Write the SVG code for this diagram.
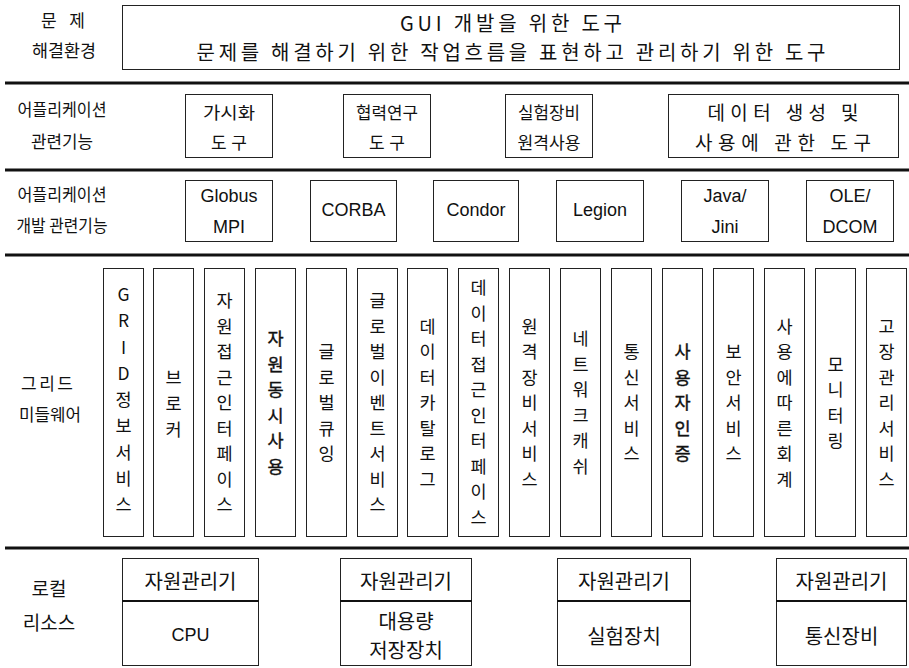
<svg xmlns="http://www.w3.org/2000/svg" width="909" height="668" viewBox="0 0 909 668">
<style>
.k{font-family:"Noto Sans CJK KR",sans-serif;font-size:17px;fill:#111;text-anchor:middle;dominant-baseline:central}
.s19{font-size:19px}
.s20{font-size:20px}
.e{font-family:"Liberation Sans","Noto Sans CJK KR",sans-serif;font-size:18px;fill:#111;text-anchor:middle;dominant-baseline:central}
.v{font-family:"Noto Sans CJK KR","Liberation Sans",sans-serif;font-size:17.5px;fill:#111;text-anchor:middle;dominant-baseline:central}
.b{stroke:#111;stroke-width:0.4}
.box{fill:#fff;stroke:#222;stroke-width:1}
.sep{stroke:#111;stroke-width:3}
.div{stroke:#111;stroke-width:2}
</style>
<rect width="909" height="668" fill="#fff"/>

<g id="separators">
<line class="sep" x1="5" y1="83" x2="909" y2="83"/>
<line class="sep" x1="5" y1="170" x2="909" y2="170"/>
<line class="sep" x1="5" y1="255" x2="909" y2="255"/>
<line class="sep" x1="5" y1="548" x2="909" y2="548"/>
</g>

<g id="row-labels">
<text class="k" x="63" y="19" textLength="44" lengthAdjust="spacing">문제</text>
<text class="k" x="64" y="49" textLength="64" lengthAdjust="spacingAndGlyphs">해결환경</text>
<text class="k" x="62" y="108" textLength="89" lengthAdjust="spacingAndGlyphs">어플리케이션</text>
<text class="k" x="62" y="140" textLength="62" lengthAdjust="spacingAndGlyphs">관련기능</text>
<text class="k" x="62" y="193" textLength="89" lengthAdjust="spacingAndGlyphs">어플리케이션</text>
<text class="k" x="62" y="224" textLength="91" lengthAdjust="spacingAndGlyphs">개발 관련기능</text>
<text class="k" x="47" y="382" textLength="52" lengthAdjust="spacing">그리드</text>
<text class="k" x="50" y="413" textLength="62" lengthAdjust="spacingAndGlyphs">미들웨어</text>
<text class="k s19" x="49" y="587">로컬</text>
<text class="k s19" x="49" y="621">리소스</text>
</g>

<g id="problem-env">
<rect class="box" x="122.5" y="5.5" width="777" height="64"/>
<text class="k s20" x="511" y="22" textLength="222" lengthAdjust="spacing">GUI 개발을 위한 도구</text>
<text class="k s20" x="511" y="51" textLength="629" lengthAdjust="spacing">문제를 해결하기 위한 작업흐름을 표현하고 관리하기 위한 도구</text>
</g>

<g id="app-visual">
<rect class="box" x="185.5" y="94.5" width="87" height="63"/>
<text class="k" x="229" y="111" textLength="52" lengthAdjust="spacingAndGlyphs">가시화</text>
<text class="k" x="229" y="141" textLength="36" lengthAdjust="spacing">도구</text>
</g>
<g id="app-collab">
<rect class="box" x="343.5" y="94.5" width="87" height="63"/>
<text class="k" x="387" y="111" textLength="62" lengthAdjust="spacingAndGlyphs">협력연구</text>
<text class="k" x="387" y="141" textLength="36" lengthAdjust="spacing">도구</text>
</g>
<g id="app-remote">
<rect class="box" x="505.5" y="94.5" width="87" height="63"/>
<text class="k" x="549" y="111" textLength="62" lengthAdjust="spacingAndGlyphs">실험장비</text>
<text class="k" x="549" y="141" textLength="63" lengthAdjust="spacingAndGlyphs">원격사용</text>
</g>
<g id="app-data">
<rect class="box" x="668.5" y="94.5" width="230" height="63"/>
<text class="k s19" x="783" y="111" textLength="151" lengthAdjust="spacing">데이터 생성 및</text>
<text class="k s19" x="783" y="141" textLength="176" lengthAdjust="spacing">사용에 관한 도구</text>
</g>

<g id="dev-globus">
<rect class="box" x="185.5" y="180.5" width="87" height="61"/>
<text class="e" x="229" y="196">Globus</text>
<text class="e" x="229" y="227">MPI</text>
</g>
<g id="dev-corba">
<rect class="box" x="310.5" y="180.5" width="86" height="61"/>
<text class="e" x="353.5" y="210">CORBA</text>
</g>
<g id="dev-condor">
<rect class="box" x="433.5" y="180.5" width="85" height="61"/>
<text class="e" x="476" y="210">Condor</text>
</g>
<g id="dev-legion">
<rect class="box" x="556.5" y="180.5" width="87" height="61"/>
<text class="e" x="600" y="210">Legion</text>
</g>
<g id="dev-java">
<rect class="box" x="681.5" y="180.5" width="87" height="61"/>
<text class="e" x="725" y="196">Java/</text>
<text class="e" x="725" y="227">Jini</text>
</g>
<g id="dev-ole">
<rect class="box" x="806.5" y="180.5" width="87" height="61"/>
<text class="e" x="850" y="196">OLE/</text>
<text class="e" x="850" y="227">DCOM</text>
</g>

<g id="mw-1">
<rect class="box" x="103.5" y="268.5" width="40" height="268"/>
<text class="v"><tspan x="123.5" y="293">G</tspan><tspan x="123.5" y="319.25">R</tspan><tspan x="123.5" y="345.5">I</tspan><tspan x="123.5" y="371.75">D</tspan><tspan x="123.5" y="398">정</tspan><tspan x="123.5" y="424.25">보</tspan><tspan x="123.5" y="450.5">서</tspan><tspan x="123.5" y="476.75">비</tspan><tspan x="123.5" y="503">스</tspan></text>
</g>
<g id="mw-2">
<rect class="box" x="153.5" y="268.5" width="40" height="268"/>
<text class="v"><tspan x="173.5" y="376">브</tspan><tspan x="173.5" y="402">로</tspan><tspan x="173.5" y="428">커</tspan></text>
</g>
<g id="mw-3">
<rect class="box" x="204.5" y="268.5" width="40" height="268"/>
<text class="v"><tspan x="224.5" y="299">자</tspan><tspan x="224.5" y="324.5">원</tspan><tspan x="224.5" y="350">접</tspan><tspan x="224.5" y="375.5">근</tspan><tspan x="224.5" y="401">인</tspan><tspan x="224.5" y="426.5">터</tspan><tspan x="224.5" y="452">페</tspan><tspan x="224.5" y="477.5">이</tspan><tspan x="224.5" y="503">스</tspan></text>
</g>
<g id="mw-4">
<rect class="box" x="255.5" y="268.5" width="40" height="268"/>
<text class="v b"><tspan x="275.5" y="337.25">자</tspan><tspan x="275.5" y="362.75">원</tspan><tspan x="275.5" y="388.25">동</tspan><tspan x="275.5" y="413.75">시</tspan><tspan x="275.5" y="439.25">사</tspan><tspan x="275.5" y="464.75">용</tspan></text>
</g>
<g id="mw-5">
<rect class="box" x="306.5" y="268.5" width="40" height="268"/>
<text class="v"><tspan x="326.5" y="350">글</tspan><tspan x="326.5" y="375.5">로</tspan><tspan x="326.5" y="401">벌</tspan><tspan x="326.5" y="426.5">큐</tspan><tspan x="326.5" y="452">잉</tspan></text>
</g>
<g id="mw-6">
<rect class="box" x="357.5" y="268.5" width="40" height="268"/>
<text class="v"><tspan x="377.5" y="299">글</tspan><tspan x="377.5" y="324.5">로</tspan><tspan x="377.5" y="350">벌</tspan><tspan x="377.5" y="375.5">이</tspan><tspan x="377.5" y="401">벤</tspan><tspan x="377.5" y="426.5">트</tspan><tspan x="377.5" y="452">서</tspan><tspan x="377.5" y="477.5">비</tspan><tspan x="377.5" y="503">스</tspan></text>
</g>
<g id="mw-7">
<rect class="box" x="407.5" y="268.5" width="40" height="268"/>
<text class="v"><tspan x="427.5" y="324.5">데</tspan><tspan x="427.5" y="350">이</tspan><tspan x="427.5" y="375.5">터</tspan><tspan x="427.5" y="401">카</tspan><tspan x="427.5" y="426.5">탈</tspan><tspan x="427.5" y="452">로</tspan><tspan x="427.5" y="477.5">그</tspan></text>
</g>
<g id="mw-8">
<rect class="box" x="458.5" y="268.5" width="40" height="268"/>
<text class="v"><tspan x="478.5" y="286.25">데</tspan><tspan x="478.5" y="311.75">이</tspan><tspan x="478.5" y="337.25">터</tspan><tspan x="478.5" y="362.75">접</tspan><tspan x="478.5" y="388.25">근</tspan><tspan x="478.5" y="413.75">인</tspan><tspan x="478.5" y="439.25">터</tspan><tspan x="478.5" y="464.75">페</tspan><tspan x="478.5" y="490.25">이</tspan><tspan x="478.5" y="515.75">스</tspan></text>
</g>
<g id="mw-9">
<rect class="box" x="509.5" y="268.5" width="40" height="268"/>
<text class="v"><tspan x="529.5" y="324.5">원</tspan><tspan x="529.5" y="350">격</tspan><tspan x="529.5" y="375.5">장</tspan><tspan x="529.5" y="401">비</tspan><tspan x="529.5" y="426.5">서</tspan><tspan x="529.5" y="452">비</tspan><tspan x="529.5" y="477.5">스</tspan></text>
</g>
<g id="mw-10">
<rect class="box" x="560.5" y="268.5" width="40" height="268"/>
<text class="v"><tspan x="580.5" y="337.25">네</tspan><tspan x="580.5" y="362.75">트</tspan><tspan x="580.5" y="388.25">워</tspan><tspan x="580.5" y="413.75">크</tspan><tspan x="580.5" y="439.25">캐</tspan><tspan x="580.5" y="464.75">쉬</tspan></text>
</g>
<g id="mw-11">
<rect class="box" x="611.5" y="268.5" width="40" height="268"/>
<text class="v"><tspan x="631.5" y="350">통</tspan><tspan x="631.5" y="375.5">신</tspan><tspan x="631.5" y="401">서</tspan><tspan x="631.5" y="426.5">비</tspan><tspan x="631.5" y="452">스</tspan></text>
</g>
<g id="mw-12">
<rect class="box" x="662.5" y="268.5" width="40" height="268"/>
<text class="v b"><tspan x="682.5" y="350">사</tspan><tspan x="682.5" y="375.5">용</tspan><tspan x="682.5" y="401">자</tspan><tspan x="682.5" y="426.5">인</tspan><tspan x="682.5" y="452">증</tspan></text>
</g>
<g id="mw-13">
<rect class="box" x="713.5" y="268.5" width="40" height="268"/>
<text class="v"><tspan x="733.5" y="350">보</tspan><tspan x="733.5" y="375.5">안</tspan><tspan x="733.5" y="401">서</tspan><tspan x="733.5" y="426.5">비</tspan><tspan x="733.5" y="452">스</tspan></text>
</g>
<g id="mw-14">
<rect class="box" x="764.5" y="268.5" width="40" height="268"/>
<text class="v"><tspan x="784.5" y="324.5">사</tspan><tspan x="784.5" y="350">용</tspan><tspan x="784.5" y="375.5">에</tspan><tspan x="784.5" y="401">따</tspan><tspan x="784.5" y="426.5">른</tspan><tspan x="784.5" y="452">회</tspan><tspan x="784.5" y="477.5">계</tspan></text>
</g>
<g id="mw-15">
<rect class="box" x="815.5" y="268.5" width="40" height="268"/>
<text class="v"><tspan x="835.5" y="362.75">모</tspan><tspan x="835.5" y="388.25">니</tspan><tspan x="835.5" y="413.75">터</tspan><tspan x="835.5" y="439.25">링</tspan></text>
</g>
<g id="mw-16">
<rect class="box" x="866.5" y="268.5" width="40" height="268"/>
<text class="v"><tspan x="886.5" y="324.5">고</tspan><tspan x="886.5" y="350">장</tspan><tspan x="886.5" y="375.5">관</tspan><tspan x="886.5" y="401">리</tspan><tspan x="886.5" y="426.5">서</tspan><tspan x="886.5" y="452">비</tspan><tspan x="886.5" y="477.5">스</tspan></text>
</g>

<g id="res-cpu">
<rect class="box" x="122.5" y="558.5" width="136" height="107"/>
<line class="div" x1="122" y1="601" x2="259" y2="601"/>
<text class="k s20" x="190.5" y="580">자원관리기</text>
<text class="e" x="190.5" y="635">CPU</text>
</g>
<g id="res-storage">
<rect class="box" x="340.5" y="558.5" width="131" height="107"/>
<line class="div" x1="340" y1="601" x2="472" y2="601"/>
<text class="k s20" x="406" y="580">자원관리기</text>
<text class="k s20" x="406" y="620">대용량</text>
<text class="k s20" x="406" y="649">저장장치</text>
</g>
<g id="res-lab">
<rect class="box" x="557.5" y="558.5" width="133" height="107"/>
<line class="div" x1="557" y1="601" x2="691" y2="601"/>
<text class="k s20" x="624" y="580">자원관리기</text>
<text class="k s20" x="624" y="635">실험장치</text>
</g>
<g id="res-comm">
<rect class="box" x="776.5" y="558.5" width="130" height="107"/>
<line class="div" x1="776" y1="601" x2="907" y2="601"/>
<text class="k s20" x="841.5" y="580">자원관리기</text>
<text class="k s20" x="841.5" y="635">통신장비</text>
</g>
</svg>
